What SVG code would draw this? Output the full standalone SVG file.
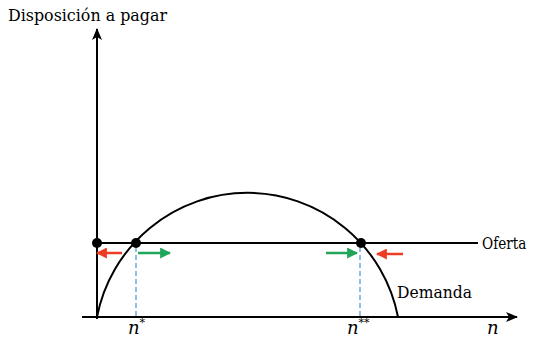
<svg xmlns="http://www.w3.org/2000/svg" width="534" height="339" viewBox="0 0 534 339">
<style>
.ax{stroke:#000;stroke-width:2;fill:none}
.t{font-family:"DejaVu Serif","Liberation Serif",serif;font-size:17px;fill:#000}
.i{font-family:"DejaVu Serif","Liberation Serif",serif;font-style:italic;font-size:18px;fill:#000}
.d{stroke:#5B9BD5;stroke-width:1.3;stroke-dasharray:5,3;fill:none}
.red{stroke:#EE3B24;stroke-width:2.5;fill:none}
.grn{stroke:#21A55B;stroke-width:2.5;fill:none}
</style>
<defs>
<marker id="ah" viewBox="0 0 12 10" refX="11" refY="5" markerWidth="12" markerHeight="10" markerUnits="userSpaceOnUse" orient="auto">
<path d="M0,0 L12,5 L0,10 L3,5 Z" fill="#000"/>
</marker>
<marker id="ar" viewBox="0 0 10 10" refX="9" refY="5" markerWidth="11" markerHeight="11" markerUnits="userSpaceOnUse" orient="auto">
<path d="M0,0 L10,5 L0,10 Z" fill="#EE3B24"/>
</marker>
<marker id="ag" viewBox="0 0 10 10" refX="9" refY="5" markerWidth="11" markerHeight="11" markerUnits="userSpaceOnUse" orient="auto">
<path d="M0,0 L10,5 L0,10 Z" fill="#21A55B"/>
</marker>
</defs>
<g id="connectors">
<line class="ax" x1="97" y1="319" x2="97" y2="29" marker-end="url(#ah)"/>
<line class="ax" x1="82" y1="317" x2="517" y2="317" marker-end="url(#ah)"/>
<line class="ax" x1="97" y1="243" x2="478" y2="243"/>
<path class="ax" d="M97,317 A153.3,153.3 0 0 1 398,317"/>
<line class="d" x1="136" y1="247" x2="136" y2="316"/>
<line class="d" x1="360" y1="247" x2="360" y2="316"/>
<line class="red" x1="122" y1="253" x2="97" y2="253" marker-end="url(#ar)"/>
<line class="grn" x1="138" y1="253" x2="170" y2="253" marker-end="url(#ag)"/>
<line class="grn" x1="326" y1="253" x2="357" y2="253" marker-end="url(#ag)"/>
<line class="red" x1="403" y1="254" x2="377" y2="254" marker-end="url(#ar)"/>
</g>
<g id="dot-origin"><circle cx="97" cy="243" r="5" fill="#000"/></g>
<g id="dot-n1"><circle cx="136" cy="243" r="5" fill="#000"/></g>
<g id="dot-n2"><circle cx="361" cy="243" r="5" fill="#000"/></g>
<g id="label-y"><text class="t" x="8" y="21" textLength="159" lengthAdjust="spacingAndGlyphs">Disposición a pagar</text></g>
<g id="label-oferta"><text class="t" transform="translate(482,249) scale(0.8,1)" x="0" y="0">Oferta</text></g>
<g id="label-demanda"><text class="t" x="397" y="298" textLength="75" lengthAdjust="spacingAndGlyphs">Demanda</text></g>
<g id="label-n"><text class="i" x="487" y="334">n</text></g>
<g id="label-nstar"><text class="i" x="128" y="334">n<tspan font-size="11" dy="-8">*</tspan></text></g>
<g id="label-nstarstar"><text class="i" x="347" y="334">n<tspan font-size="11" dy="-8">**</tspan></text></g>
</svg>
